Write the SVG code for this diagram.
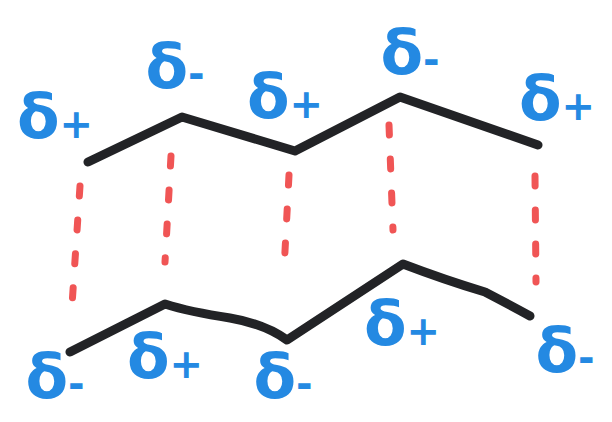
<svg xmlns="http://www.w3.org/2000/svg" width="612" height="422" viewBox="0 0 612 422">
<style>
.chain{fill:none;stroke:#222326;stroke-width:9;stroke-linecap:round;stroke-linejoin:round}
.dash{fill:none;stroke:#f05555;stroke-width:7;stroke-linecap:round;stroke-dasharray:10 24}
.lbl{font-family:"DejaVu Sans","Noto Sans",sans-serif;font-weight:bold;font-size:62px;fill:#2489e2;text-anchor:middle}
.sub{font-size:40px}
</style>
<rect width="612" height="422" fill="#ffffff"/>
<g id="connectors">
<path class="chain" d="M88,162 L182,117 L295,151 L400,97 L538,145"/>
<path class="chain" d="M70,352 L165,304 Q190,312 230,318 Q265,324 287,340 L403,264 Q445,280 485,292 Q510,305 530,316"/>
<path class="dash" d="M80,186 L72,305"/>
<path class="dash" d="M171,156 L165,262"/>
<path class="dash" d="M289,175 L284,270"/>
<path class="dash" d="M389,125 L393,230"/>
<path class="dash" d="M535,176 L536,282"/>
</g>
<g id="t1"><text class="lbl" x="55" y="138">δ<tspan class="sub">+</tspan></text></g>
<g id="t2"><text class="lbl" x="175" y="88">δ<tspan class="sub">-</tspan></text></g>
<g id="t3"><text class="lbl" x="285" y="118">δ<tspan class="sub">+</tspan></text></g>
<g id="t4"><text class="lbl" x="410" y="74">δ<tspan class="sub">-</tspan></text></g>
<g id="t5"><text class="lbl" x="557" y="120">δ<tspan class="sub">+</tspan></text></g>
<g id="b1"><text class="lbl" x="55" y="398">δ<tspan class="sub">-</tspan></text></g>
<g id="b2"><text class="lbl" x="165" y="378">δ<tspan class="sub">+</tspan></text></g>
<g id="b3"><text class="lbl" x="283" y="398">δ<tspan class="sub">-</tspan></text></g>
<g id="b4"><text class="lbl" x="402" y="345">δ<tspan class="sub">+</tspan></text></g>
<g id="b5"><text class="lbl" x="565" y="372">δ<tspan class="sub">-</tspan></text></g>
</svg>
